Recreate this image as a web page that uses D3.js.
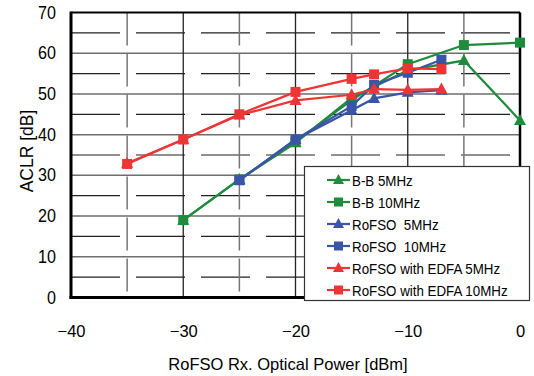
<!DOCTYPE html>
<html><head><meta charset="utf-8">
<script src="https://cdn.jsdelivr.net/npm/d3@7"></script>
<style>body{margin:0;background:#fff}svg{display:block}text{font-family:"Liberation Sans",Arial,sans-serif}</style>
</head><body><svg id="c" width="534" height="376"></svg>
<script>
const xTicks = [-40, -30, -20, -10, 0];
const yTicks = [0, 10, 20, 30, 40, 50, 60, 70];
const bb5x   = [-30, -25, -20, -15, -10, -5, 0];
const bb5y   = [19, 29, 38, 49, 55.8, 58.2, 43.5];
const bb10x  = [-30, -25, -20, -15, -10, -5, 0];
const bb10y  = [19, 29, 38.3, 48.5, 57.3, 62, 62.6];
const ro5x   = [-25, -20, -15, -13, -10, -7];
const ro5y   = [28.8, 38.8, 46, 48.9, 50.4, 50.9];
const ro10x  = [-25, -20, -15, -13, -10, -7];
const ro10y  = [28.8, 38.8, 47, 52.2, 55.2, 58.4];
const ed5x   = [-35, -30, -25, -20, -15, -13, -10, -7];
const ed5y   = [33, 38.8, 44.8, 48.4, 49.8, 51.2, 51, 51.2];
const ed10x  = [-35, -30, -25, -20, -15, -13, -10, -7];
const ed10y  = [32.8, 38.8, 45, 50.5, 53.7, 54.8, 56.3, 56.1];
const names  = ["B-B 5MHz", "B-B 10MHz", "RoFSO\u00a0\u00a05MHz", "RoFSO\u00a0\u00a010MHz", "RoFSO with EDFA 5MHz", "RoFSO with EDFA 10MHz"];
const colors = ["#1f8b3d", "#1f8b3d", "#3b55a6", "#3b55a6", "#ee3535", "#ee3535"];
const shapes = ["tri", "sq", "tri", "sq", "tri", "sq"];

const series = [[bb5x,bb5y],[bb10x,bb10y],[ro5x,ro5y],[ro10x,ro10y],[ed5x,ed5y],[ed10x,ed10y]]
  .map((s,i)=>({name:names[i], color:colors[i], shape:shapes[i], pts:s[0].map((x,j)=>({x, y:s[1][j]}))}));

const svg = d3.select("#c");
const L=71, T=12.5, R=520, B=297.5;
const x = d3.scaleLinear().domain([-40,0]).range([L,R]);
const y = d3.scaleLinear().domain([0,70]).range([B,T]);
const g = svg.append("g");

// condense text horizontally
function condense(sel, f){
  sel.each(function(){ const w=this.getComputedTextLength(); d3.select(this).attr("textLength",w*f).attr("lengthAdjust","spacingAndGlyphs"); });
}

// minor grid (5s)
const minorX = d3.range(-35,0,10), minorY = d3.range(5,70,10);
g.selectAll(".mh").data(minorY).join("line").attr("x1",L).attr("x2",R).attr("y1",d=>y(d)).attr("y2",d=>y(d))
  .attr("stroke","#222").attr("stroke-width",1.2).attr("stroke-dasharray","49,16");
g.selectAll(".mv").data(minorX).join("line").attr("y1",T).attr("y2",B).attr("x1",d=>x(d)).attr("x2",d=>x(d))
  .attr("stroke","#777").attr("stroke-width",1.5).attr("stroke-dasharray","33,8");
// major grid
g.selectAll(".Mh").data(yTicks.slice(1,-1)).join("line").attr("x1",L).attr("x2",R).attr("y1",d=>y(d)).attr("y2",d=>y(d))
  .attr("stroke","#6e6e6e").attr("stroke-width",1.5);
g.selectAll(".Mv").data(xTicks.slice(1,-1)).join("line").attr("y1",T).attr("y2",B).attr("x1",d=>x(d)).attr("x2",d=>x(d))
  .attr("stroke","#222").attr("stroke-width",1.3);

// frame
g.append("line").attr("x1",L).attr("x2",R).attr("y1",T).attr("y2",T).attr("stroke","#000").attr("stroke-width",2);
g.append("line").attr("x1",R).attr("x2",R).attr("y1",T).attr("y2",B).attr("stroke","#000").attr("stroke-width",2.5);
g.append("line").attr("x1",L).attr("x2",L).attr("y1",T-1).attr("y2",B+1.5).attr("stroke","#000").attr("stroke-width",3);
g.append("line").attr("x1",L-1.5).attr("x2",R+1).attr("y1",B).attr("y2",B).attr("stroke","#000").attr("stroke-width",3);

// axes via d3
const xAxis = d3.axisBottom(x).tickValues(xTicks).tickSize(0).tickPadding(28).tickFormat(d=>d<0?"\u2212"+Math.abs(d):d);
const ax = svg.append("g").attr("transform",`translate(0,${B})`).call(xAxis);
ax.select(".domain").remove();
ax.selectAll("text").attr("font-size",16.5).attr("fill","#000").attr("font-family","Liberation Sans, Arial, sans-serif");
const yAxis = d3.axisLeft(y).tickValues(yTicks).tickSize(0).tickPadding(15);
const ay = svg.append("g").attr("transform",`translate(${L},0)`).call(yAxis);
ay.select(".domain").remove();
ay.selectAll("text").attr("font-size",17.5).attr("fill","#000").attr("font-family","Liberation Sans, Arial, sans-serif");
condense(ay.selectAll("text"), 0.92);

svg.append("text").attr("x",288).attr("y",370).attr("text-anchor","middle").attr("font-size",16.5).text("RoFSO Rx. Optical Power [dBm]");
svg.append("text").attr("transform","translate(33,151) rotate(-90)").attr("text-anchor","middle").attr("font-size",17.5).text("ACLR [dB]");

// series
const line = d3.line().x(d=>x(d.x)).y(d=>y(d.y));
function marker(sel, shape, color, cx, cy){
  if(shape==="sq") sel.append("rect").attr("x",cx-5).attr("y",cy-5).attr("width",10).attr("height",10).attr("fill",color);
  else sel.append("path").attr("d",`M${cx},${cy-6.5}L${cx+6},${cy+4.5}L${cx-6},${cy+4.5}Z`).attr("fill",color);
}
series.forEach(s=>{
  const sg = svg.append("g");
  sg.append("path").attr("d",line(s.pts)).attr("fill","none").attr("stroke",s.color).attr("stroke-width",2.2);
  s.pts.forEach(p=>marker(sg, s.shape, s.color, x(p.x), y(p.y)));
});

// legend
const lg = svg.append("g");
lg.append("rect").attr("x",304.5).attr("y",166.5).attr("width",225).attr("height",134).attr("fill","#fff").attr("stroke","#333").attr("stroke-width",1.2);
series.forEach((s,i)=>{
  const cy = 180 + i*22;
  lg.append("line").attr("x1",327).attr("x2",350).attr("y1",cy).attr("y2",cy).attr("stroke",s.color).attr("stroke-width",2.2);
  if(s.shape==="sq") lg.append("rect").attr("x",334).attr("y",cy-4.5).attr("width",9).attr("height",9).attr("fill",s.color);
  else lg.append("path").attr("d",`M338.5,${cy-6}L344,${cy+4}L333,${cy+4}Z`).attr("fill",s.color);
  const t = lg.append("text").attr("x",352).attr("y",cy+5.5).attr("font-size",15.5).text(s.name);
  condense(t, 0.86);
});
</script></body></html>
